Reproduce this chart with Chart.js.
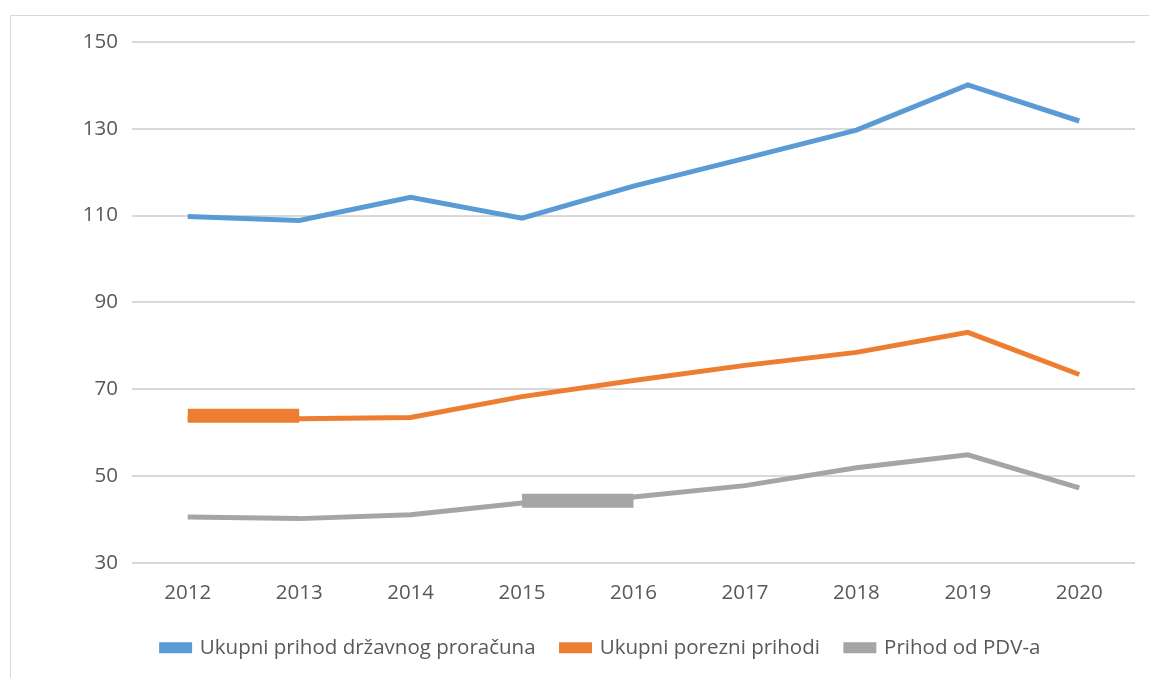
<!DOCTYPE html>
<html>
<head>
<meta charset="utf-8">
<script src="https://cdn.jsdelivr.net/npm/chart.js@4"></script>
<style>
  html, body { margin: 0; padding: 0; background: #fff; }
  body { width: 1149px; height: 678px; position: relative; overflow: hidden; }
  .frame { position: absolute; left: 10px; top: 15px; width: 1200px; height: 700px; border: 1px solid #d9d9d9; }
  .wrap { position: absolute; left: 0; top: 0; width: 1149px; height: 678px; }
</style>
</head>
<body>
<div class="frame"></div>
<div class="wrap"><canvas id="myChart"></canvas></div>
<script>
/* data */
const years = ['2012', '2013', '2014', '2015', '2016', '2017', '2018', '2019', '2020'];
const budgetRevenue = [109.8, 108.9, 114.2, 109.4, 116.8, 123.2, 129.7, 140.1, 131.8];
const taxRevenue = [63.2, 63.2, 63.5, 68.3, 72.0, 75.5, 78.5, 83.1, 73.4];
const vatRevenue = [40.6, 40.2, 41.1, 43.8, 45.2, 47.8, 51.9, 54.9, 47.3];
// thick blocks sitting on the lines in the picture
const taxBlock = [63.9, 63.9, null, null, null, null, null, null, null];
const vatBlock = [null, null, null, 44.3, 44.3, null, null, null, null];
const yTicks = [30, 50, 70, 90, 110, 130, 150];

const labelFont = { family: '"Open Sans", sans-serif', size: 20.5 };
const textColor = '#595959';

function initChart() {
    const ctx = document.getElementById('myChart').getContext('2d');

    const lineSet = (label, data, color) => ({
        label: label,
        data: data,
        borderColor: color,
        backgroundColor: color,
        borderWidth: 5,
        pointRadius: 0,
        tension: 0,
        borderJoinStyle: 'miter',
        borderCapStyle: 'butt'
    });
    const blockSet = (data, color) => ({
        label: '_block',
        data: data,
        borderColor: color,
        backgroundColor: color,
        borderWidth: 14,
        pointRadius: 0,
        borderCapStyle: 'butt',
        spanGaps: false,
        order: -1
    });

    new Chart(ctx, {
        type: 'line',
        data: {
            labels: years,
            datasets: [
                lineSet('Ukupni prihod državnog proračuna', budgetRevenue, '#5B9BD5'),
                lineSet('Ukupni porezni prihodi', taxRevenue, '#ED7D31'),
                lineSet('Prihod od PDV-a', vatRevenue, '#A5A5A5'),
                blockSet(taxBlock, '#ED7D31'),
                blockSet(vatBlock, '#A5A5A5')
            ]
        },
        options: {
            responsive: true,
            maintainAspectRatio: false,
            animation: false,
            // big left padding pushes the legend centre right, like the original
            layout: { padding: { left: 67, right: 14, top: 42, bottom: 10 } },
            plugins: {
                tooltip: { enabled: false },
                legend: {
                    position: 'bottom',
                    labels: {
                        boxWidth: 28,
                        boxHeight: 6,
                        padding: 26,
                        color: textColor,
                        font: labelFont,
                        filter: (item) => item.text !== '_block'
                    }
                }
            },
            scales: {
                x: {
                    offset: true,
                    grid: { display: false, drawTicks: false },
                    border: { display: false },
                    ticks: { color: textColor, font: labelFont, padding: 18, maxRotation: 0 },
                    afterFit: (scale) => { scale.height -= 12; }
                },
                y: {
                    min: 30,
                    max: 150,
                    afterBuildTicks: (scale) => { scale.ticks = yTicks.map(v => ({ value: v })); },
                    afterFit: (scale) => { scale.width = 65; },
                    grid: { color: '#d9d9d9', lineWidth: 2, drawTicks: false },
                    border: { display: false },
                    ticks: { color: textColor, font: labelFont, padding: 14 }
                }
            }
        }
    });
}

initChart();
</script>
</body>
</html>
